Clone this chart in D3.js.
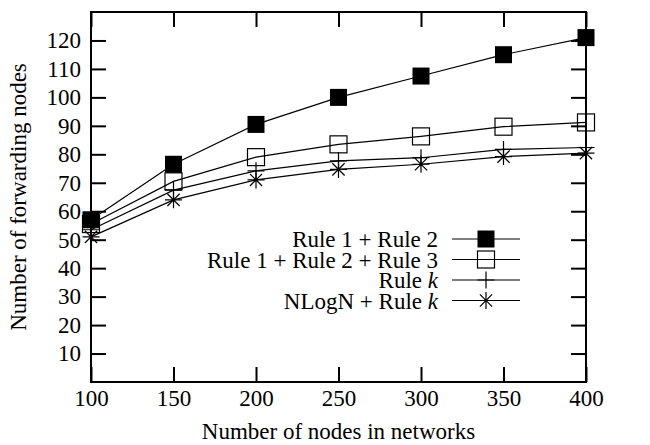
<!DOCTYPE html>
<html>
<head>
<meta charset="utf-8">
<script src="https://cdn.jsdelivr.net/npm/d3@7"></script>
<style>
  html, body { margin: 0; padding: 0; background: #fff; }
  svg { display: block; }
  text { font-family: "Liberation Serif", "Times New Roman", serif; fill: #000; }
</style>
</head>
<body>
<div id="chart"></div>
<script>
// ---- data ----
const nodes = [100, 150, 200, 250, 300, 350, 400];
const rule12 = [57, 76.5, 90.5, 100, 107.5, 115, 121];
const rule123 = [55.5, 70.5, 79, 83.5, 86.3, 89.7, 91.2];
const ruleK = [53.5, 67.4, 74.2, 77.7, 78.8, 81.7, 82.4];
const nlognK = [51, 64, 71, 74.7, 76.5, 79.2, 80.4];
const xTicks = [100, 150, 200, 250, 300, 350, 400];
const yTicks = [10, 20, 30, 40, 50, 60, 70, 80, 90, 100, 110, 120];
const seriesNames = ["Rule 1 + Rule 2", "Rule 1 + Rule 2 + Rule 3", "Rule k", "NLogN + Rule k"];
const xTitle = "Number of nodes in networks";
const yTitle = "Number of forwarding nodes";

const W = 650, H = 445;
const m = { left: 91, right: 650 - 586, top: 12, bottom: 445 - 382 };
const FS = 23;

const svg = d3.select("#chart").append("svg").attr("width", W).attr("height", H);

const x = d3.scaleLinear().domain([100, 400]).range([m.left, W - m.right]);
const y = d3.scaleLinear().domain([0, 130]).range([H - m.bottom, m.top]);

const TL = 15;
// axes with inward ticks
const gx = svg.append("g").attr("transform", `translate(0,${y(0)})`)
  .call(d3.axisBottom(x).tickValues(xTicks).tickSize(-TL).tickPadding(8).tickFormat(d3.format("d")));
const gxTop = svg.append("g").attr("transform", `translate(0,${y(130)})`)
  .call(d3.axisTop(x).tickValues(xTicks).tickSize(-TL).tickFormat(""));
const gy = svg.append("g").attr("transform", `translate(${x(100)},0)`)
  .call(d3.axisLeft(y).tickValues(yTicks).tickSize(-TL).tickPadding(10).tickFormat(d3.format("d")));
const gyR = svg.append("g").attr("transform", `translate(${x(400)},0)`)
  .call(d3.axisRight(y).tickValues(yTicks).tickSize(-TL).tickFormat(""));

[gx, gxTop, gy, gyR].forEach(g => {
  g.select(".domain").remove();
  g.selectAll(".tick line").attr("stroke", "#000").attr("stroke-width", 2);
  g.selectAll(".tick text").style("font-size", FS + "px").style("font-family", "Liberation Serif");
});
gx.selectAll(".tick text").attr("y", 8).attr("dy", "0.71em");
gy.selectAll(".tick text").attr("x", -10);

// frame
svg.append("rect")
  .attr("x", x(100)).attr("y", y(130))
  .attr("width", x(400) - x(100)).attr("height", y(0) - y(130))
  .attr("fill", "none").attr("stroke", "#000").attr("stroke-width", 2);

// titles
svg.append("text").attr("x", (x(100) + x(400)) / 2).attr("y", 439)
  .attr("text-anchor", "middle").style("font-size", FS + "px").text(xTitle);
svg.append("text").attr("transform", `translate(26,${(y(0) + y(130)) / 2}) rotate(-90)`)
  .attr("text-anchor", "middle").style("font-size", FS + "px").text(yTitle);

// markers
const S = 8.5;
function marker(g, type, cx, cy) {
  if (type === 0) {
    g.append("rect").attr("x", cx - S).attr("y", cy - S).attr("width", 2 * S).attr("height", 2 * S)
      .attr("fill", "#000");
  } else if (type === 1) {
    g.append("rect").attr("x", cx - S).attr("y", cy - S).attr("width", 2 * S).attr("height", 2 * S)
      .attr("fill", "none").attr("stroke", "#000").attr("stroke-width", 1.2);
  } else if (type === 2) {
    g.append("path").attr("d", `M${cx - S},${cy}H${cx + S}M${cx},${cy - S}V${cy + S}`)
      .attr("stroke", "#000").attr("stroke-width", 1.2);
  } else {
    const d = S * 0.72;
    g.append("path").attr("d", `M${cx - S},${cy}H${cx + S}M${cx},${cy - S}V${cy + S}M${cx - d},${cy - d}L${cx + d},${cy + d}M${cx - d},${cy + d}L${cx + d},${cy - d}`)
      .attr("stroke", "#000").attr("stroke-width", 1.2);
  }
}

const allSeries = [rule12, rule123, ruleK, nlognK];
const line = d3.line().x((d, i) => x(nodes[i])).y(d => y(d));

allSeries.forEach((vals, si) => {
  const g = svg.append("g");
  g.append("path").datum(vals).attr("d", line).attr("fill", "none")
    .attr("stroke", "#000").attr("stroke-width", 1.2);
  vals.forEach((v, i) => marker(g, si, x(nodes[i]), y(v)));
});

// legend
const legRows = [239, 259.5, 280, 300.5];
const lx0 = 452, lx1 = 520, lmx = 486, textRight = 438;
seriesNames.forEach((name, si) => {
  const ly = legRows[si];
  const g = svg.append("g");
  const t = g.append("text").attr("x", textRight).attr("y", ly).attr("dy", "0.35em")
    .attr("text-anchor", "end").style("font-size", FS + "px");
  if (name.endsWith(" k")) {
    t.append("tspan").text(name.slice(0, -1));
    t.append("tspan").style("font-style", "italic").text("k");
  } else {
    t.text(name);
  }
  g.append("line").attr("x1", lx0).attr("x2", lx1).attr("y1", ly).attr("y2", ly)
    .attr("stroke", "#000").attr("stroke-width", 1.2);
  marker(g, si, lmx, ly);
});
</script>
</body>
</html>
